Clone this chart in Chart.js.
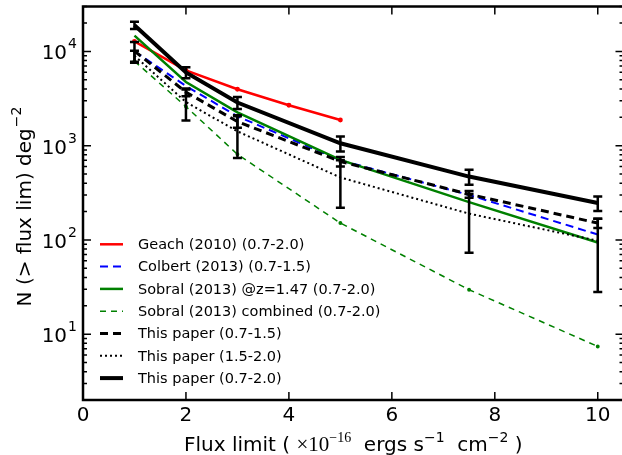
<!DOCTYPE html>
<html>
<head>
<meta charset="utf-8">
<script src="https://cdn.jsdelivr.net/npm/chart.js@4"></script>
<style>
  html, body { margin: 0; padding: 0; background: #fff; overflow: hidden; }
</style>
</head>
<body>
<canvas id="nc" width="630" height="455"></canvas>
<script>
// flux limits (x 1e-16 ergs/s/cm2)
const fluxGeach = [1, 2, 3, 4, 5];
const fluxAll = [1, 2, 3, 5, 7.5, 10];

// N(>flux) per deg^2
const geach = [12800, 6300, 3970, 2690, 1870];
const colbert = [10000, 4300, 2050, 700, 300, 114];
const sobralZ = [14700, 4740, 2260, 706, 252, 94];
const sobralComb = [7900, 2600, 810, 151, 29.6, 7.4];
const paper0715 = [10100, 3700, 1800, 680, 305, 151];
const paper0715Err = [2500, 350, 250, 80, 25, 17];
const paper1520 = [9000, 2900, 1420, 460, 190, 98];
const paper1520Err = [1200, 1050, 680, 240, 117, 70];
const paper0720 = [19000, 6000, 2870, 1060, 470, 246];
const paper0720Err = [1700, 800, 420, 190, 85, 43];

const labels = [
  "Geach (2010) (0.7-2.0)",
  "Colbert (2013) (0.7-1.5)",
  "Sobral (2013) @z=1.47 (0.7-2.0)",
  "Sobral (2013) combined (0.7-2.0)",
  "This paper (0.7-1.5)",
  "This paper (1.5-2.0)",
  "This paper (0.7-2.0)"
];

const xTicks = [0, 2, 4, 6, 8, 10];
const yDecades = [1, 2, 3, 4];

function pts(xs, ys) {
  return ys.map((y, i) => ({ x: xs[i], y }));
}

function line(label, data, color, width, dash, extra) {
  return Object.assign({
    label, data,
    borderColor: color,
    backgroundColor: color,
    borderWidth: width,
    borderDash: dash,
    pointRadius: 0,
    tension: 0,
    fill: false
  }, extra || {});
}

const datasets = [
  line(labels[0], pts(fluxGeach, geach), "#ff0000", 2.5, [], { pointRadius: 1.2, order: 7 }),
  line(labels[1], pts(fluxAll, colbert), "#0000ff", 2, [8, 5], { order: 6 }),
  line(labels[2], pts(fluxAll, sobralZ), "#008000", 2.5, [], { order: 5 }),
  line(labels[3], pts(fluxAll, sobralComb), "#008000", 1.5, [6, 5], { pointRadius: 1.2, order: 4 }),
  line(labels[4], pts(fluxAll, paper0715), "#000000", 3, [8, 5], { errs: paper0715Err, order: 3 }),
  line(labels[5], pts(fluxAll, paper1520), "#000000", 2, [2, 3], { errs: paper1520Err, order: 2 }),
  line(labels[6], pts(fluxAll, paper0720), "#000000", 4, [], { errs: paper0720Err, order: 1 })
];

const sans = "'DejaVu Sans', sans-serif";

// error bars, frame, ticks, labels and legend
const decor = {
  id: "decor",
  afterDatasetsDraw(chart) {
    const ctx = chart.ctx;
    const xs = chart.scales.x, ys = chart.scales.y;
    const a = chart.chartArea;

    // error bars
    ctx.save();
    ctx.strokeStyle = "#000";
    ctx.lineWidth = 2.5;
    chart.data.datasets.forEach(ds => {
      if (!ds.errs) return;
      ds.data.forEach((p, i) => {
        const e = ds.errs[i];
        const px = xs.getPixelForValue(p.x);
        const top = ys.getPixelForValue(p.y + e);
        const bot = ys.getPixelForValue(Math.max(p.y - e, 2.01));
        ctx.beginPath();
        ctx.moveTo(px, top); ctx.lineTo(px, bot);
        ctx.moveTo(px - 4.5, top); ctx.lineTo(px + 4.5, top);
        ctx.moveTo(px - 4.5, bot); ctx.lineTo(px + 4.5, bot);
        ctx.stroke();
      });
    });
    ctx.restore();

    // frame
    ctx.save();
    ctx.strokeStyle = "#000";
    ctx.lineWidth = 2.5;
    ctx.strokeRect(a.left, a.top, a.right - a.left, a.bottom - a.top);

    // ticks
    ctx.lineWidth = 1.5;
    ctx.beginPath();
    xTicks.forEach(v => {
      const px = xs.getPixelForValue(v);
      ctx.moveTo(px, a.bottom); ctx.lineTo(px, a.bottom - 8);
      ctx.moveTo(px, a.top); ctx.lineTo(px, a.top + 8);
    });
    for (let k = 0; k <= 4; k++) {
      for (let m = 1; m <= 9; m++) {
        const v = m * Math.pow(10, k);
        if (v < 2 || v > 30000) continue;
        const py = ys.getPixelForValue(v);
        const len = m === 1 ? 8 : 4;
        ctx.moveTo(a.left, py); ctx.lineTo(a.left + len, py);
        ctx.moveTo(a.right, py); ctx.lineTo(a.right - len, py);
      }
    }
    ctx.stroke();

    // y tick labels 10^k
    ctx.fillStyle = "#000";
    ctx.textBaseline = "alphabetic";
    yDecades.forEach(k => {
      const py = ys.getPixelForValue(Math.pow(10, k));
      ctx.font = "14px " + sans;
      const sw = ctx.measureText(String(k)).width;
      ctx.textAlign = "left";
      ctx.fillText(String(k), 77 - sw, py - 3);
      ctx.font = "20px " + sans;
      ctx.textAlign = "right";
      ctx.fillText("10", 77 - sw - 1, py + 8);
    });

    // y title
    ctx.save();
    ctx.translate(31, 207);
    ctx.rotate(-Math.PI / 2);
    ctx.font = "20px " + sans;
    const main = "N (> flux lim) deg";
    const mw = ctx.measureText(main).width;
    ctx.font = "14px " + sans;
    const supw = ctx.measureText("\u22122").width;
    const x0 = -(mw + supw) / 2;
    ctx.font = "20px " + sans;
    ctx.textAlign = "left";
    ctx.fillText(main, x0, 0);
    ctx.font = "14px " + sans;
    ctx.fillText("\u22122", x0 + mw + 1, -10);
    ctx.restore();

    // x title
    const parts = [
      ["Flux limit ( ", "20px " + sans, 0],
      ["\u00d710", "21px 'Liberation Serif', serif", 0],
      ["\u221216", "14px 'Liberation Serif', serif", -9],
      ["  ergs s", "20px " + sans, 0],
      ["\u22121", "14px " + sans, -9],
      ["  cm", "20px " + sans, 0],
      ["\u22122", "14px " + sans, -9],
      [" )", "20px " + sans, 0]
    ];
    let total = 0;
    parts.forEach(p => { ctx.font = p[1]; total += ctx.measureText(p[0]).width; });
    let cx = (a.left + a.right) / 2 - total / 2;
    ctx.textAlign = "left";
    parts.forEach(p => {
      ctx.font = p[1];
      ctx.fillText(p[0], cx, 451 + p[2]);
      cx += ctx.measureText(p[0]).width;
    });

    // legend
    ctx.font = "14.5px " + sans;
    ctx.textBaseline = "middle";
    chart.data.datasets.forEach((ds, i) => {
      const ly = 244.3 + i * 22.3;
      ctx.save();
      ctx.strokeStyle = ds.borderColor;
      ctx.lineWidth = ds.borderWidth;
      ctx.setLineDash(ds.borderDash);
      ctx.beginPath();
      ctx.moveTo(100, ly); ctx.lineTo(123, ly);
      ctx.stroke();
      ctx.restore();
      ctx.fillStyle = "#000";
      ctx.fillText(ds.label, 138, ly + 1);
    });
    ctx.restore();
  }
};

new Chart(document.getElementById("nc"), {
  type: "line",
  data: { datasets },
  plugins: [decor],
  options: {
    responsive: false,
    animation: false,
    devicePixelRatio: 1,
    layout: { padding: { top: 5, right: 5, left: 0, bottom: 0 } },
    plugins: { legend: { display: false }, tooltip: { enabled: false } },
    scales: {
      x: {
        type: "linear",
        min: 0,
        max: 10.5,
        afterFit: s => { s.height = 55; },
        border: { display: false },
        grid: { display: false, drawTicks: false },
        ticks: {
          stepSize: 2,
          includeBounds: false,
          padding: 4,
          color: "#000",
          font: { family: "DejaVu Sans", size: 20 }
        }
      },
      y: {
        type: "logarithmic",
        min: 2,
        max: 30000,
        afterFit: s => { s.width = 83; },
        border: { display: false },
        grid: { display: false, drawTicks: false },
        ticks: { display: false }
      }
    }
  }
});
</script>
</body>
</html>
